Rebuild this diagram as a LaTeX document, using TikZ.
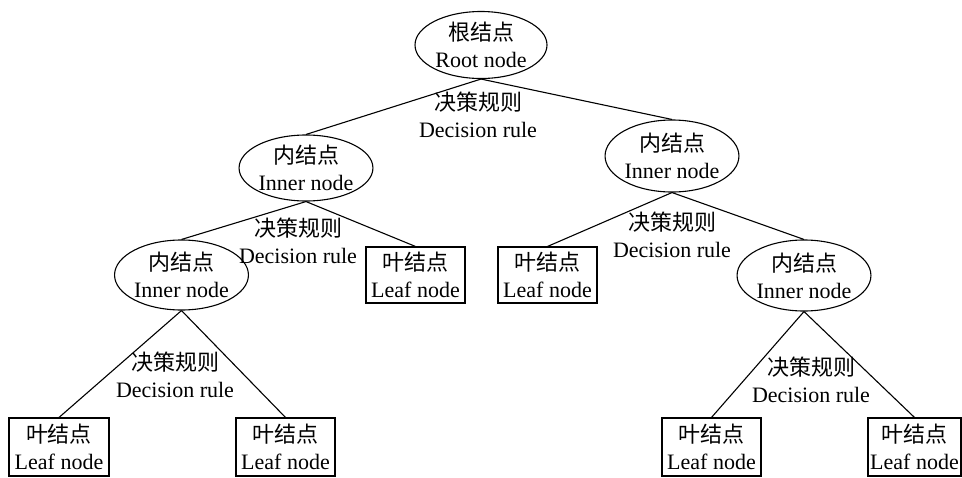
\documentclass[tikz,border=0pt]{standalone}
\usepackage{fontspec}
\setmainfont{Liberation Serif}
\newfontfamily\cjk{Noto Sans CJK SC}
\usetikzlibrary{shapes.geometric}
\tikzset{
  treeline/.style={line width=1.1pt, black},
  innerell/.style={ellipse, draw, line width=1.1pt, inner sep=0pt, align=center,
    font=\fontsize{22}{27}\selectfont},
  leafbox/.style={rectangle, draw, line width=1.1pt, inner sep=0pt, align=center,
    font=\fontsize{22}{27}\selectfont},
  rulelabel/.style={align=center, inner sep=0pt, font=\fontsize{22}{27}\selectfont},
}
\begin{document}
\begin{tikzpicture}[x=1pt, y=-1pt]
\useasboundingbox (0,0) rectangle (962,477);

% internal nodes
\node[innerell, minimum width=132pt, minimum height=67pt] (root) at (481,45) {{\cjk 根结点}\\Root node};
\node[innerell, minimum width=125pt, minimum height=66pt] (L1) at (306,168) {{\cjk 内结点}\\Inner node};
\node[innerell, minimum width=128pt, minimum height=72pt] (R1) at (672,156) {{\cjk 内结点}\\Inner node};
\node[innerell, minimum width=127pt, minimum height=70pt] (L2) at (181.5,275) {{\cjk 内结点}\\Inner node};
\node[innerell, minimum width=118pt, minimum height=71pt] (R2) at (804,275.5) {{\cjk 内结点}\\Inner node};

% leaves
\node[leafbox, minimum width=99pt, minimum height=56pt] (LC) at (415.5,275) {{\cjk 叶结点}\\Leaf node};
\node[leafbox, minimum width=99pt, minimum height=56pt] (LD) at (547.5,275) {{\cjk 叶结点}\\Leaf node};
\node[leafbox, minimum width=100pt, minimum height=58pt] (LA) at (59,447) {{\cjk 叶结点}\\Leaf node};
\node[leafbox, minimum width=99pt, minimum height=58pt] (LB) at (285.5,447) {{\cjk 叶结点}\\Leaf node};
\node[leafbox, minimum width=99pt, minimum height=58pt] (LE) at (711.5,447) {{\cjk 叶结点}\\Leaf node};
\node[leafbox, minimum width=93pt, minimum height=58pt] (LF) at (914.5,447) {{\cjk 叶结点}\\Leaf node};

% branches
\draw[treeline] (root.south) -- (L1.north);
\draw[treeline] (root.south) -- (R1.north);
\draw[treeline] (L1.south) -- (L2.north);
\draw[treeline] (L1.south) -- (LC.north);
\draw[treeline] (R1.south) -- (LD.north);
\draw[treeline] (R1.south) -- (R2.north);
\draw[treeline] (L2.south) -- (LA.north);
\draw[treeline] (L2.south) -- (LB.north);
\draw[treeline] (R2.south) -- (LE.north);
\draw[treeline] (R2.south) -- (LF.north);

% split rules
\node[rulelabel] (r0) at (478,115) {{\cjk 决策规则}\\Decision rule};
\node[rulelabel] (r1) at (298,241) {{\cjk 决策规则}\\Decision rule};
\node[rulelabel] (r2) at (672,235) {{\cjk 决策规则}\\Decision rule};
\node[rulelabel] (r3) at (175,375) {{\cjk 决策规则}\\Decision rule};
\node[rulelabel] (r4) at (811,380) {{\cjk 决策规则}\\Decision rule};
\end{tikzpicture}
\end{document}
